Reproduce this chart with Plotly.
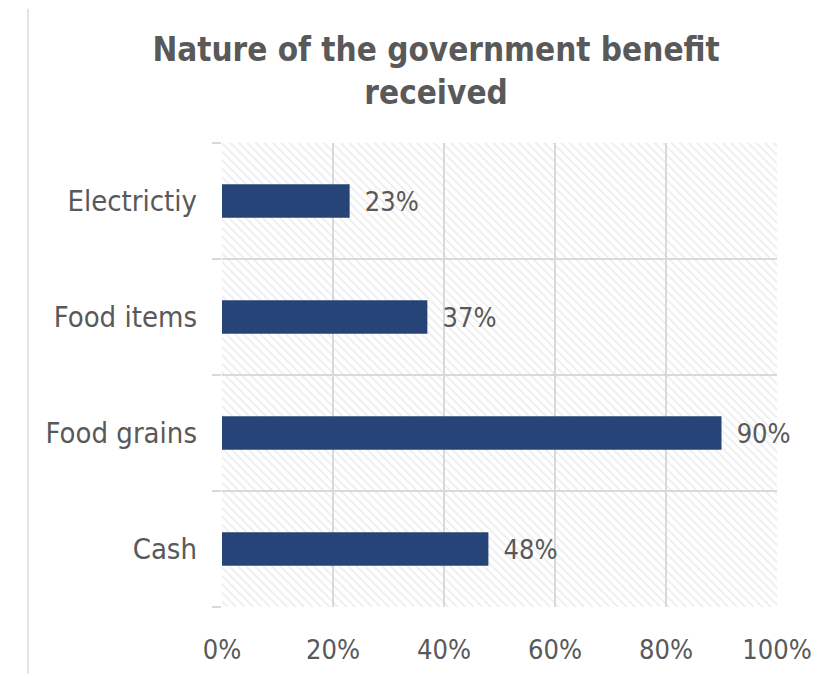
import plotly.graph_objects as go

categories = ["Cash", "Food grains", "Food items", "Electrictiy"]
values = [0.48, 0.90, 0.37, 0.23]
x_ticks = [0, 0.2, 0.4, 0.6, 0.8, 1.0]
x_tick_labels = ["0%", "20%", "40%", "60%", "80%", "100%"]
title_text = "Nature of the government benefit<br>received"

pos = list(range(len(categories)))
FONT = "DejaVu Sans Condensed, sans-serif"
TXT = "#595959"
GRID = "#d9d9d9"

W, H = 828, 669
L, R, T, B = 214, 59, 135, 67
PW, PH = W - L - R, H - T - B

fig = go.Figure()
# hatched plot background
fig.add_trace(go.Bar(
    y=pos, x=[1.0] * len(pos), orientation="h", width=1.0,
    marker=dict(color="rgba(0,0,0,0)", line=dict(width=0),
                pattern=dict(shape="\\", fgcolor="#d6d6d6", bgcolor="rgba(0,0,0,0)",
                             size=6, solidity=0.25)),
    hoverinfo="skip", showlegend=False,
))
fig.add_trace(go.Bar(
    y=pos, x=values, orientation="h", width=0.29,
    marker=dict(color="#264478", line=dict(width=0)),
    text=["\u2002" + f"{v:.0%}" for v in values], textposition="outside",
    textfont=dict(color=TXT, size=27, family=FONT),
    cliponaxis=False, showlegend=False,
))

fig.update_layout(
    width=W, height=H,
    barmode="overlay",
    paper_bgcolor="white", plot_bgcolor="white",
    margin=dict(l=L, r=R, t=T, b=B),
    font=dict(family=FONT, color=TXT),
    title=dict(text=title_text, x=0.517, xanchor="center", y=1 - 53 / H, yanchor="middle",
               font=dict(size=33, color=TXT, family=FONT, weight="bold")),
    xaxis=dict(range=[0, 1], tickvals=x_ticks, ticktext=x_tick_labels,
               showgrid=True, gridcolor=GRID, gridwidth=2, zeroline=False,
               showline=False, ticks="", tickfont=dict(size=27, color=TXT),
               ticklabelstandoff=24),
    yaxis=dict(range=[-0.5, len(pos) - 0.5], tickvals=pos, ticktext=categories,
               showgrid=False, zeroline=False, showline=False, ticks="",
               tickfont=dict(size=29, color=TXT), ticklabelstandoff=24,
               minor=dict(tick0=-0.5, dtick=1, showgrid=True, gridcolor=GRID, gridwidth=2,
                          ticks="outside", ticklen=9, tickcolor=GRID, tickwidth=2)),
    shapes=[
        dict(type="line", xref="paper", yref="paper", x0=(20 - L) / PW, x1=(20 - L) / PW,
             y0=-B / PH, y1=(H - B) / PH, line=dict(color="#e3e3e3", width=2)),
    ],
)

fig.write_html("out.html")
